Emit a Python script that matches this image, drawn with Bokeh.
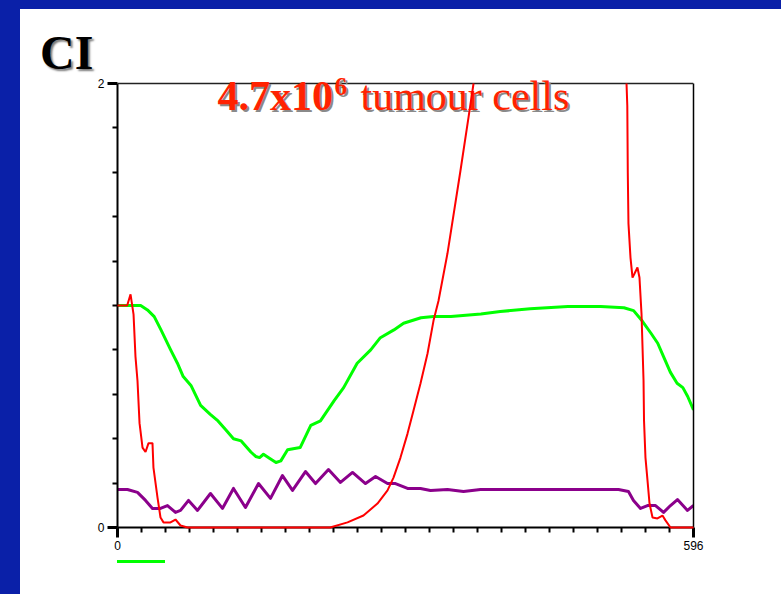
from bokeh.plotting import figure
from bokeh.models import Range1d, FixedTicker, Label, Div, Span, LinearAxis
from bokeh.layouts import row, column
from bokeh.embed import file_html
from bokeh.resources import INLINE

# ---- data ----
x_max = 596
y_max = 2
nan = float("nan")   # red curve is off the top of the scale there

green_x = [0, 24, 31, 38, 45, 55, 62, 68, 76, 86, 96, 104, 112, 116, 120, 128, 138, 143, 147, 151,
           158, 164, 169, 176, 189, 200, 210, 224, 234, 248, 262, 272, 286, 296, 314, 327, 345,
           376, 396, 427, 466, 500, 524, 534, 543, 552, 559, 565, 572, 579, 585, 590, 596]
green_y = [1.0, 1.0, 0.98, 0.95, 0.89, 0.80, 0.74, 0.68, 0.64, 0.55, 0.51, 0.48, 0.44, 0.42, 0.40,
           0.39, 0.34, 0.32, 0.315, 0.33, 0.31, 0.293, 0.30, 0.35, 0.36, 0.46, 0.48, 0.57, 0.63,
           0.74, 0.80, 0.855, 0.89, 0.92, 0.945, 0.95, 0.95, 0.962, 0.973, 0.985, 0.995, 0.995,
           0.99, 0.977, 0.93, 0.875, 0.83, 0.77, 0.70, 0.65, 0.63, 0.59, 0.53]

purple_x = [0, 10.3, 20.7, 29.0, 36.2, 44.5, 51.7, 60.0, 65.2, 73.5, 82.8, 96.2, 108.6, 120.0,
            132.4, 145.9, 158.3, 170.7, 181.1, 194.5, 204.9, 218.3, 230.7, 243.2, 256.6, 267.0,
            279.4, 287.6, 300.1, 313.5, 323.9, 341.4, 358.0, 375.6, 458.4, 518.4, 528.7, 533.9,
            541.2, 548.4, 556.7, 565.0, 572.2, 579.4, 589.8, 596]
purple_y = [0.171, 0.171, 0.158, 0.122, 0.086, 0.086, 0.099, 0.068, 0.077, 0.122, 0.077, 0.153,
            0.086, 0.176, 0.090, 0.198, 0.131, 0.234, 0.167, 0.252, 0.198, 0.261, 0.203, 0.248,
            0.198, 0.230, 0.198, 0.198, 0.176, 0.176, 0.167, 0.171, 0.162, 0.171, 0.171, 0.171,
            0.162, 0.122, 0.086, 0.099, 0.099, 0.068, 0.099, 0.126, 0.077, 0.099]

red_x = [0, 10, 13.5, 16.6, 18.6, 20.7, 22.8, 25.9, 29.0, 32.1, 36.2, 37.2, 41.4, 44.5, 47.6,
         54.8, 60.0, 65.2, 72.4, 220, 238, 254.5, 269, 279.4, 285.6, 292.8, 300.1, 306.3, 313.5,
         320.8, 327, 332.1, 341.4, 354.9, 363.2, 368.4, 450, 526.7, 527.5, 528.0,
         528.7, 530.8, 532.9, 535, 538, 540.1, 542.2, 544.3, 544.8, 546.3, 548.4, 550.5, 553.6,
         558.7, 563.9, 567, 572.2, 596]
red_y = [1.0, 1.0, 1.05, 0.96, 0.77, 0.66, 0.47, 0.36, 0.34, 0.38, 0.38, 0.27, 0.135, 0.045,
         0.023, 0.023, 0.036, 0.009, 0, 0, 0.023, 0.054, 0.108, 0.167, 0.225, 0.315, 0.423,
         0.527, 0.649, 0.784, 0.932, 1.02, 1.234, 1.608, 1.847, 2.0, nan, 2.0, 1.9,
         1.6, 1.37, 1.216, 1.126, 1.144, 1.171, 1.126, 0.964, 0.662, 0.482, 0.315, 0.212, 0.108,
         0.045, 0.041, 0.054, 0.032, 0, 0]

x_major = [0, 596]
x_minor = [i * 596 / 24 for i in range(1, 24)]
y_major = [0, 2]
y_minor = [0.2 * i for i in range(1, 10)]

title_main = "4.7x10"
title_sup = "6"
title_rest = "tumour cells"
panel_label = "CI"

BLUE = "#0A20A8"
RED_T = "#FF2200"

# frame is 455 px tall; the y=2 line sits 11 px below its top so the title is not clipped
y_top = y_max * 455 / 444

p = figure(width=761, height=485, output_backend="svg", toolbar_location=None,
           x_range=Range1d(0, x_max), y_range=Range1d(0, y_top),
           min_border_left=97, min_border_right=88, min_border_top=0, min_border_bottom=30,
           background_fill_color="white", border_fill_color="white")
p.grid.visible = False
p.outline_line_color = None

for ax, maj, mnr, bnd in ((p.xaxis[0], x_major, x_minor, (0, x_max)),
                          (p.yaxis[0], y_major, y_minor, (0, y_max))):
    ax.ticker = FixedTicker(ticks=maj, minor_ticks=mnr)
    ax.bounds = bnd
    ax.axis_line_width = 2
    ax.axis_line_color = "black"
    ax.major_tick_line_width = 3
    ax.major_tick_out = 10
    ax.major_tick_in = 0
    ax.minor_tick_line_width = 2
    ax.minor_tick_out = 5
    ax.minor_tick_in = 0
    ax.major_label_text_font = "Liberation Sans"
    ax.major_label_text_font_size = "12px"
    ax.major_label_text_color = "black"
    ax.major_label_standoff = 3

# frame border: right edge (bounded to 0..2) and top edge at y=2
right_edge = LinearAxis(bounds=(0, y_max), ticker=FixedTicker(ticks=[]),
                        major_label_text_font_size="0px", axis_line_width=1.5,
                        axis_line_color="black", major_tick_line_color=None,
                        minor_tick_line_color=None)
p.add_layout(right_edge, "right")
p.add_layout(Span(location=y_max, dimension="width", line_color="#222222", line_width=1.5))

p.line(green_x, green_y, line_color="#00FF00", line_width=3, line_join="round")
p.line(purple_x, purple_y, line_color="#8B008B", line_width=3, line_join="round")
p.line(red_x, red_y, line_color="#FF0000", line_width=2, level="overlay")


def lab(text, x, y, size, style, color):
    p.add_layout(Label(x=x, y=y, x_units="screen", y_units="screen", text=text,
                       text_font="Liberation Serif", text_font_size=size,
                       text_font_style=style, text_color=color, text_baseline="alphabetic"))


# shadow copies first, then the red text (screen coords relative to frame bottom-left)
for dx, dy, col in ((2, -2, "#8a8a8a"), (0, 0, RED_T)):
    lab(title_main, 100 + dx, 432 + dy, "42px", "bold", col)
    lab(title_sup, 217 + dx, 441 + dy, "25px", "bold", col)
    lab(title_rest, 243 + dx, 432 + dy, "42px", "normal", col)

left_band = Div(width=20, height=594, margin=(0, 0, 0, 0), styles={"background-color": BLUE})
top_band = Div(width=761, height=9, margin=(0, 0, 0, 0), styles={"background-color": BLUE})
header = Div(width=761, height=63, margin=(0, 0, 0, 0), styles={"background-color": "white"},
             text=('<div style="position:relative; left:20px; top:26px; margin:0; padding:0; '
                   'font-family:\'Liberation Serif\'; font-weight:bold; font-size:48px; '
                   'line-height:36px; color:black; text-shadow:2px 2px 2px #7a7a7a;">'
                   + panel_label + '</div>'))
footer = Div(width=761, height=37, margin=(0, 0, 0, 0), styles={"background-color": "white"},
             text=('<div style="position:relative; left:97px; top:-6px; width:48px; height:3px; '
                   'background-color:#00FF00;"></div>'))
layout = row(left_band, column(top_band, header, p, footer, spacing=0), spacing=0)

open("out.html", "w").write(file_html(layout, INLINE))
